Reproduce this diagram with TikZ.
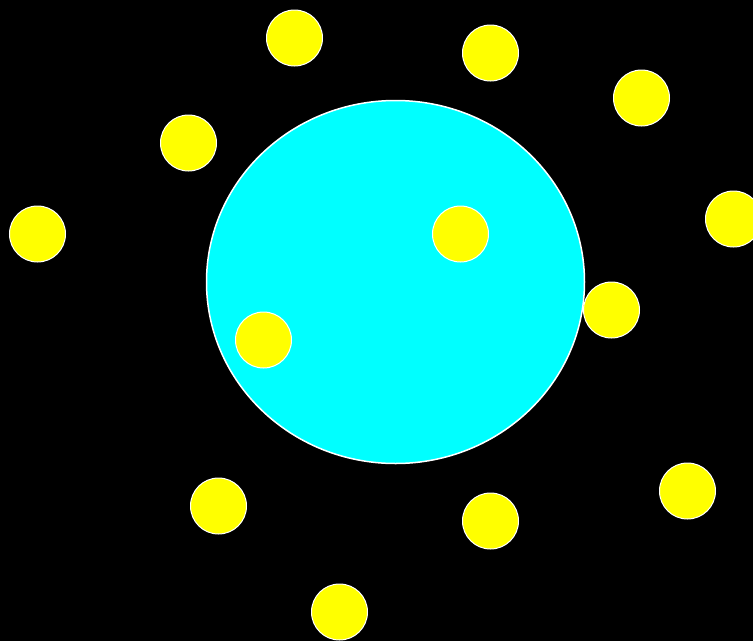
\documentclass[tikz,border=0pt]{standalone}
\usetikzlibrary{shapes.geometric}
\definecolor{aqua}{RGB}{0,255,255}
\definecolor{sun}{RGB}{255,255,0}
\begin{document}
\begin{tikzpicture}[x=1pt,y=-1pt,
  dot/.style={circle,fill=sun,draw=white,line width=1pt,minimum size=56pt,inner sep=0pt}]
\fill[black] (0,0) rectangle (753,641);
\useasboundingbox (0,0) rectangle (753,641);
\node[ellipse,fill=aqua,draw=white,line width=1.5pt,minimum width=378pt,minimum height=363pt,inner sep=0pt] (big) at (395.5,282) {};
\node[dot] (c1) at (294.5,38) {};
\node[dot] (c2) at (490.5,53) {};
\node[dot] (c3) at (641.5,98) {};
\node[dot] (c4) at (188.5,143) {};
\node[dot] (c5) at (37.5,234) {};
\node[dot] (c6) at (733.5,219) {};
\node[dot] (c7) at (460.5,234) {};
\node[dot] (c8) at (611.5,310) {};
\node[dot] (c9) at (263.5,340) {};
\node[dot] (c10) at (218.5,506) {};
\node[dot] (c11) at (490.5,521) {};
\node[dot] (c12) at (687.5,491) {};
\node[dot] (c13) at (339.5,612) {};
\end{tikzpicture}
\end{document}
